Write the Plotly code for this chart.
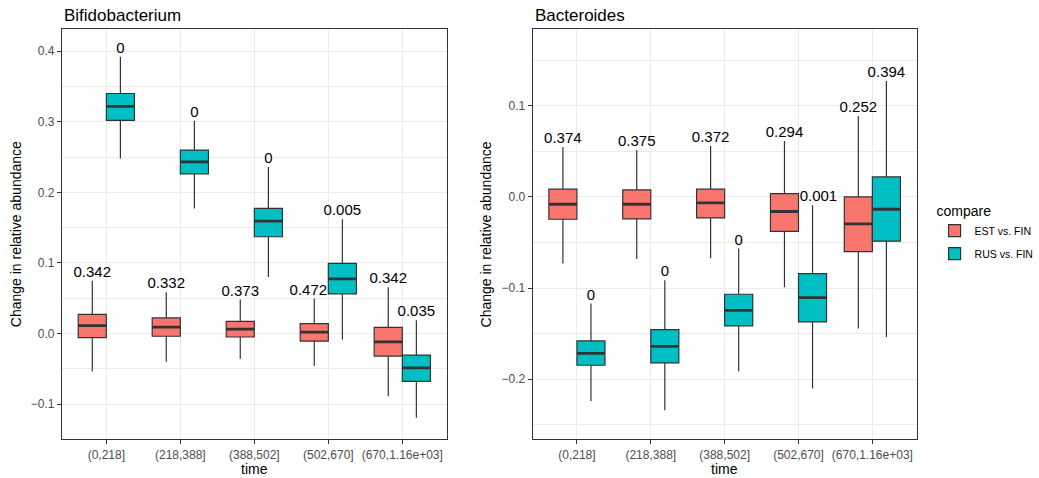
import plotly.graph_objects as go

# ---- data -------------------------------------------------------------
categories = ["(0,218]", "(218,388]", "(388,502]", "(502,670]", "(670,1.16e+03]"]
groups = ["EST vs. FIN", "RUS vs. FIN"]

# Bifidobacterium: box statistics per time bin
bifido_est_lower = [-0.054, -0.040, -0.036, -0.046, -0.089]
bifido_est_q1 = [-0.006, -0.004, -0.005, -0.011, -0.032]
bifido_est_median = [0.011, 0.009, 0.006, 0.002, -0.012]
bifido_est_q3 = [0.027, 0.022, 0.017, 0.014, 0.0085]
bifido_est_upper = [0.0745, 0.0585, 0.048, 0.0496, 0.0656]
bifido_est_p = ["0.342", "0.332", "0.373", "0.472", "0.342"]

bifido_rus_lower = [0.248, 0.177, 0.080, -0.0085, -0.1195]
bifido_rus_q1 = [0.302, 0.226, 0.137, 0.056, -0.068]
bifido_rus_median = [0.3217, 0.2432, 0.1592, 0.0773, -0.0487]
bifido_rus_q3 = [0.340, 0.2598, 0.1772, 0.0992, -0.0307]
bifido_rus_upper = [0.392, 0.3013, 0.2357, 0.162, 0.0188]
bifido_rus_p = ["0", "0", "0", "0.005", "0.035"]

# Bacteroides: box statistics per time bin
bacter_est_lower = [-0.0731, -0.068, -0.0673, -0.0991, -0.1445]
bacter_est_q1 = [-0.0245, -0.0241, -0.023, -0.0377, -0.060]
bacter_est_median = [-0.008, -0.008, -0.0066, -0.016, -0.0296]
bacter_est_q3 = [0.0085, 0.0077, 0.0085, 0.0037, 0.0]
bacter_est_upper = [0.0549, 0.0516, 0.056, 0.0615, 0.0889]
bacter_est_p = ["0.374", "0.375", "0.372", "0.294", "0.252"]

bacter_rus_lower = [-0.2239, -0.2341, -0.1913, -0.2103, -0.1537]
bacter_rus_q1 = [-0.1847, -0.1822, -0.1416, -0.1372, -0.0486]
bacter_rus_median = [-0.1716, -0.1639, -0.1244, -0.1105, -0.0135]
bacter_rus_q3 = [-0.158, -0.1456, -0.1068, -0.0841, 0.022]
bacter_rus_upper = [-0.117, -0.0914, -0.0567, -0.0091, 0.1273]
bacter_rus_p = ["0", "0", "0", "0.001", "0.394"]

# ---- style ------------------------------------------------------------
FONT = "Liberation Sans, Arial, Helvetica, sans-serif"
COLORS = {"EST vs. FIN": "#F8766D", "RUS vs. FIN": "#00BFC4"}
EDGE = "#333333"
GRID = "#EBEBEB"
BOX_W = 0.38
DODGE = {"EST vs. FIN": -0.19, "RUS vs. FIN": 0.19}
# small horizontal nudges keeping a few labels clear of neighbouring boxes
LABEL_NUDGE = {("x", "EST vs. FIN", 3): -0.08, ("x2", "RUS vs. FIN", 3): 0.08}

W, H = 1039, 478
panels = [
    dict(xa="x", ya="y", title="Bifidobacterium",
         series={
             "EST vs. FIN": (bifido_est_lower, bifido_est_q1, bifido_est_median,
                             bifido_est_q3, bifido_est_upper, bifido_est_p),
             "RUS vs. FIN": (bifido_rus_lower, bifido_rus_q1, bifido_rus_median,
                             bifido_rus_q3, bifido_rus_upper, bifido_rus_p),
         },
         px=(62.3, 449.3), yrange=[-0.150, 0.431]),
    dict(xa="x2", ya="y2", title="Bacteroides",
         series={
             "EST vs. FIN": (bacter_est_lower, bacter_est_q1, bacter_est_median,
                             bacter_est_q3, bacter_est_upper, bacter_est_p),
             "RUS vs. FIN": (bacter_rus_lower, bacter_rus_q1, bacter_rus_median,
                             bacter_rus_q3, bacter_rus_upper, bacter_rus_p),
         },
         px=(535.7, 922.0), yrange=[-0.266, 0.184]),
]
PLOT_TOP, PLOT_BOTTOM = 29.3, 439.3

fig = go.Figure()

for pi, panel in enumerate(panels):
    xa, ya = panel["xa"], panel["ya"]
    for g in groups:
        lo, q1, med, q3, up, pv = panel["series"][g]
        xs = [i + DODGE[g] for i in range(len(categories))]
        fig.add_trace(go.Box(
            x=xs, lowerfence=lo, q1=q1, median=med, q3=q3, upperfence=up,
            width=BOX_W, whiskerwidth=0, boxpoints=False,
            fillcolor=COLORS[g], line=dict(color=EDGE, width=1.2),
            name=g, legendgroup=g, showlegend=(pi == 0),
            xaxis=xa, yaxis=ya, hoverinfo="skip",
        ))
        # thicker median bars
        mx, my = [], []
        for x, m in zip(xs, med):
            mx += [x - BOX_W / 2, x + BOX_W / 2, None]
            my += [m, m, None]
        fig.add_trace(go.Scatter(
            x=mx, y=my, mode="lines", line=dict(color=EDGE, width=2.8),
            showlegend=False, xaxis=xa, yaxis=ya, hoverinfo="skip",
        ))
        # p-value labels above the upper whiskers
        lx = [x + LABEL_NUDGE.get((xa, g, i), 0.0) for i, x in enumerate(xs)]
        fig.add_trace(go.Scatter(
            x=lx, y=up, mode="text", text=pv, textposition="top center",
            textfont=dict(size=15, color="black", family=FONT),
            showlegend=False, xaxis=xa, yaxis=ya, hoverinfo="skip",
            cliponaxis=False,
        ))

    x0, x1 = panel["px"]
    # panel title
    fig.add_annotation(text=panel["title"], xref="paper", yref="paper",
                       x=x0 / W, y=1 - 15.5 / H, xanchor="left", yanchor="middle",
                       showarrow=False, font=dict(size=17, color="black", family=FONT))
    # x axis title
    fig.add_annotation(text="time", xref="paper", yref="paper",
                       x=(x0 + x1) / 2 / W, y=1 - 468.5 / H,
                       xanchor="center", yanchor="middle", showarrow=False,
                       font=dict(size=14, color="black", family=FONT))
    # y axis title
    ytx = 16 if pi == 0 else 489
    fig.add_annotation(text="Change in relative abundance", xref="paper", yref="paper",
                       x=ytx / W, y=1 - (PLOT_TOP + PLOT_BOTTOM) / 2 / H,
                       xanchor="center", yanchor="middle", textangle=-90,
                       showarrow=False, font=dict(size=14, color="black", family=FONT))

common_axis = dict(
    showline=True, mirror=True, linecolor=EDGE, linewidth=1,
    ticks="outside", ticklen=4, tickcolor=EDGE, tickwidth=1,
    tickfont=dict(size=12, color="#4D4D4D", family=FONT),
    showgrid=True, gridcolor=GRID, gridwidth=1.1, zeroline=False,
)

ydom = [1 - PLOT_BOTTOM / H, 1 - PLOT_TOP / H]
for pi, panel in enumerate(panels):
    x0, x1 = panel["px"]
    sfx = "" if pi == 0 else str(pi + 1)
    fig.update_layout(**{
        "xaxis" + sfx: dict(
            common_axis, domain=[x0 / W, x1 / W], range=[-0.6, 4.6],
            tickmode="array", tickvals=list(range(len(categories))),
            ticktext=categories, anchor="y" + sfx,
        ),
        "yaxis" + sfx: dict(
            common_axis, domain=ydom, range=panel["yrange"],
            dtick=0.1, tick0=0, tickformat=".1f", anchor="x" + sfx,
            minor=dict(dtick=0.05, tick0=0, showgrid=True, gridcolor=GRID,
                       gridwidth=0.6, ticks=""),
        ),
    })

fig.update_layout(
    width=W, height=H,
    margin=dict(l=0, r=0, t=0, b=0),
    paper_bgcolor="white", plot_bgcolor="white",
    boxmode="overlay",
    font=dict(family=FONT, color="black"),
    legend=dict(
        title=dict(text="compare", font=dict(size=14, color="black", family=FONT)),
        font=dict(size=10.5, color="black", family=FONT),
        x=940 / W, y=1 - 198 / H, xanchor="left", yanchor="top",
        tracegroupgap=4, bgcolor="rgba(0,0,0,0)", itemwidth=30,
    ),
    showlegend=True,
)

fig.write_html("out.html")
